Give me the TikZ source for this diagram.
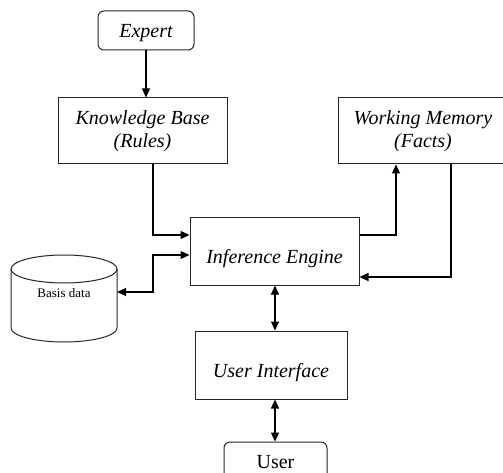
\documentclass[tikz,border=0pt]{standalone}
\usepackage{fontspec}
\setmainfont{Liberation Serif}
\usetikzlibrary{arrows.meta}
\begin{document}
\begin{tikzpicture}[x=1pt,y=-1pt,
  box/.style={draw=black!85, line width=1pt, inner sep=0pt, align=center, font=\fontsize{20}{23}\selectfont\itshape},
  rbox/.style={box, rounded corners=6pt},
  conn/.style={line width=1.2pt, -{Triangle[length=9pt,width=8pt]}},
  bconn/.style={line width=1.2pt, {Triangle[length=9pt,width=8pt]}-{Triangle[length=9pt,width=8pt]}}]
\useasboundingbox (0,0) rectangle (503,473);
\clip (0,0) rectangle (503,473);
\node[rbox, minimum width=96, minimum height=39, text height=17pt, text depth=2pt] (expert) at (146,30.5) {Expert};
\node[box, minimum width=169, minimum height=66] (kb) at (142.5,131) {Knowledge Base\\(Rules)};
\node[box, minimum width=170, minimum height=66] (wm) at (423,131) {Working Memory\\(Facts)};
\node[box, minimum width=169, minimum height=68, text height=28pt, text depth=3pt] (ie) at (274.5,251) {Inference Engine};
\node[box, minimum width=152, minimum height=68, text height=28pt, text depth=3pt] (ui) at (271,365) {User Interface};
\node[rbox, minimum width=103, minimum height=40, font=\fontsize{20}{23}\selectfont] (user) at (275.5,462) {User};
% cylinder
\draw[black!85, line width=1pt] (64,269) ellipse [x radius=53, y radius=14];
\draw[black!85, line width=1pt] (11,269) -- (11,328) arc[start angle=180, end angle=360, x radius=53, y radius=-14] -- (117,269);
\node[font=\fontsize{13}{15}\selectfont] (db) at (64,293) {Basis data};
\coordinate (dbr) at (117,292);
% connectors
\coordinate (k1) at (153,235);
\coordinate (d1) at (153,255);
\coordinate (w1) at (396,235);
\coordinate (w2) at (451,277);
\coordinate (v1) at (275,0);
\draw[conn] (expert.south) -- (expert.south |- kb.north);
\draw[conn] (kb.south -| k1) -- (k1) -- (ie.west |- k1);
\draw[bconn] (dbr) -- (dbr -| d1) -- (d1) -- (ie.west |- d1);
\draw[conn] (ie.east |- w1) -- (w1) -- (w1 |- wm.south);
\draw[conn] (wm.south -| w2) -- (w2) -- (ie.east |- w2);
\draw[bconn] (ie.south -| v1) -- (ui.north -| v1);
\draw[bconn] (ui.south -| v1) -- (user.north -| v1);
\end{tikzpicture}
\end{document}
